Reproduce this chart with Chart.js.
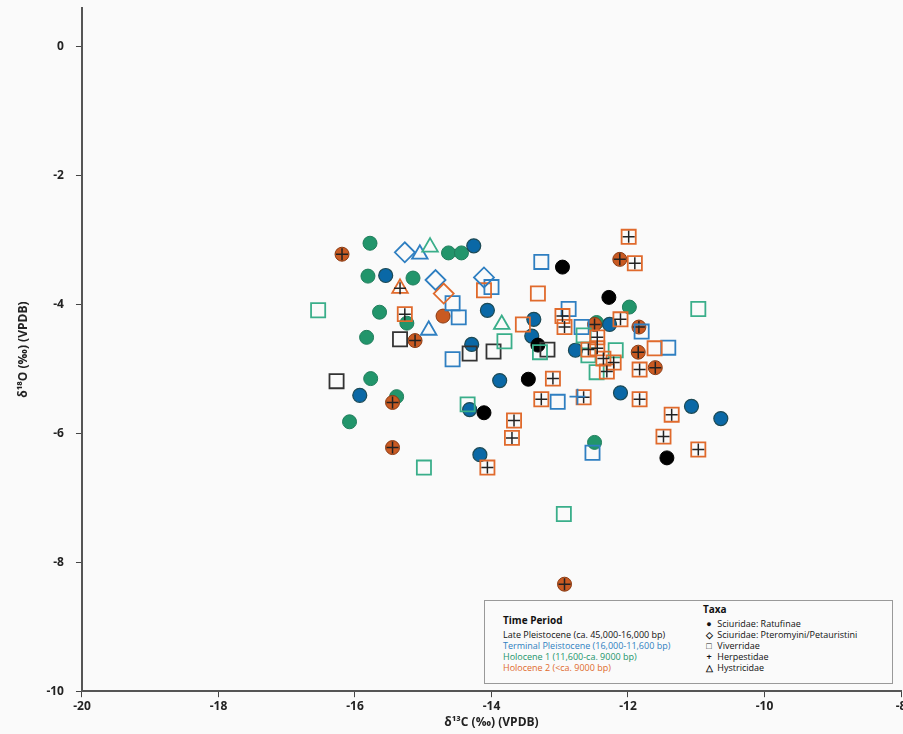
<!DOCTYPE html>
<html>
<head>
<meta charset="utf-8">
<script src="https://cdn.jsdelivr.net/npm/chart.js@4"></script>
<style>
  body { margin: 0; background: #fafafa; }
  #wrap { position: relative; width: 903px; height: 734px; }
  #legend {
    position: absolute; left: 484px; top: 600px; width: 409px; height: 84px;
    border: 1px solid #999; background: #fafafa; box-sizing: border-box;
    font-family: "Open Sans", sans-serif; font-size: 9px; color: #111;
  }
  #legend .col1 { position: absolute; left: 18px; top: 14px; line-height: 11px; }
  #legend .col2 { position: absolute; left: 218px; top: 3px; line-height: 11px; }
  #legend b { font-size: 10px; display: block; margin-bottom: 3px; }
  .sym { display: inline-block; width: 12px; text-align: center; font-weight: bold; }
</style>
</head>
<body>
<div id="wrap">
  <canvas id="c" width="903" height="734"></canvas>
  <div id="legend">
    <div class="col1">
      <b>Time Period</b>
      <div>Late Pleistocene (ca. 45,000-16,000 bp)</div>
      <div style="color:#2f7fc1">Terminal Pleistocene (16,000-11,600 bp)</div>
      <div style="color:#22956b">Holocene 1 (11,600-ca. 9000 bp)</div>
      <div style="color:#e06a2c">Holocene 2 (&lt;ca. 9000 bp)</div>
    </div>
    <div class="col2">
      <b>Taxa</b>
      <div><span class="sym">●</span> Sciuridae: Ratufinae</div>
      <div><span class="sym">◇</span> Sciuridae: Pteromyini/Petauristini</div>
      <div><span class="sym">□</span> Viverridae</div>
      <div><span class="sym">+</span> Herpestidae</div>
      <div><span class="sym">△</span> Hystricidae</div>
    </div>
  </div>
</div>
<script>
// [δ13C, δ18O] pairs
const lateCircles = [[-12.96,-3.42],[-12.28,-3.89],[-13.46,-5.16],[-14.11,-5.68],[-13.32,-4.63],[-11.43,-6.38]];
const lateSquares = [[-16.27,-5.19],[-15.34,-4.54],[-14.32,-4.76],[-13.97,-4.73],[-13.18,-4.70]];

const termCircles = [[-14.26,-3.09],[-15.55,-3.55],[-14.06,-4.09],[-14.29,-4.62],[-13.38,-4.23],[-13.41,-4.49],
  [-12.77,-4.71],[-13.88,-5.18],[-15.93,-5.41],[-14.32,-5.63],[-14.17,-6.33],[-12.27,-4.31],[-12.11,-5.37],
  [-11.07,-5.58],[-10.64,-5.77]];
const termDiamonds = [[-15.27,-3.19],[-14.82,-3.62],[-14.11,-3.58]];
const termSquares = [[-13.27,-3.34],[-14.00,-3.73],[-14.57,-3.98],[-14.48,-4.20],[-14.57,-4.85],[-13.03,-5.51],
  [-12.52,-6.30],[-12.68,-4.35],[-12.87,-4.07],[-11.80,-4.42],[-11.41,-4.67]];
const termPlus = [[-12.74,-5.43]];
const termTriangles = [[-15.05,-3.22],[-14.92,-4.40]];

const holo1Circles = [[-15.78,-3.05],[-15.81,-3.56],[-15.15,-3.59],[-14.63,-3.20],[-14.44,-3.20],[-15.64,-4.12],
  [-15.24,-4.29],[-15.83,-4.51],[-15.77,-5.15],[-15.39,-5.43],[-16.08,-5.82],[-12.49,-6.14],[-11.98,-4.04],[-12.46,-4.28]];
const holo1Squares = [[-16.54,-4.09],[-13.81,-4.57],[-13.29,-4.74],[-12.65,-4.48],[-12.58,-4.79],[-12.46,-5.05],
  [-14.35,-5.55],[-14.99,-6.53],[-12.18,-4.71],[-10.97,-4.07],[-12.94,-7.25]];
const holo1Triangles = [[-14.90,-3.11],[-13.85,-4.31]];

const holo2Circles = [[-14.71,-4.18]];
const holo2CirclePlus = [[-16.19,-3.22],[-15.12,-4.56],[-15.45,-5.52],[-15.45,-6.22],[-12.49,-4.31],[-12.12,-3.30],
  [-11.84,-4.35],[-11.85,-4.74],[-11.60,-4.98],[-12.93,-8.34]];
const holo2Diamonds = [[-14.70,-3.83]];
const holo2Squares = [[-14.11,-3.78],[-13.32,-3.83],[-13.54,-4.31],[-11.61,-4.68]];
const holo2SquarePlus = [[-15.27,-4.15],[-12.96,-4.18],[-12.93,-4.35],[-13.10,-5.15],[-13.27,-5.47],[-13.67,-5.80],
  [-13.70,-6.07],[-12.65,-5.44],[-12.45,-4.51],[-12.58,-4.70],[-11.99,-2.95],[-11.90,-3.36],[-12.11,-4.23],
  [-12.45,-4.68],[-12.36,-4.84],[-12.21,-4.90],[-12.31,-5.04],[-11.83,-5.01],[-11.83,-5.47],[-11.36,-5.71],
  [-11.48,-6.05],[-10.97,-6.25],[-14.06,-6.53]];
const holo2TrianglePlus = [[-15.34,-3.75]];

const xTicks = [-20, -18, -16, -14, -12, -10, -8];
const yTicks = [0, -2, -4, -6, -8, -10];

const BLACK = "#000000", BLUE = "#2f7fc1", BLUEFILL = "#0a68a6", GREEN = "#3aae8a", GREENFILL = "#22956b",
      ORANGE = "#e06a2c", ORANGEFILL = "#c95a22";

const pts = (a) => a.map(([x, y]) => ({ x, y }));
function ds(data, style, fill, edge, radius, width) {
  return { data: pts(data), pointStyle: style, backgroundColor: fill, borderColor: edge,
           pointRadius: radius, pointBorderWidth: width, showLine: false };
}
const plusOver = (data) => ds(data, "cross", "#222", "#222", 6, 1.5);

// listed bottom-most first; Chart.js paints the first dataset last, so reverse
const layers = [
  ds(holo1Circles, "circle", GREENFILL, "#1f7d5b", 7, 1),
  ds(termCircles, "circle", BLUEFILL, "#1d4a55", 7, 1.2),
  ds(lateCircles, "circle", BLACK, BLACK, 7, 1),
  ds(holo2Circles, "circle", ORANGEFILL, "#8a3a12", 7, 1),
  ds(holo2CirclePlus, "circle", ORANGEFILL, "#8a3a12", 7, 1),
  plusOver(holo2CirclePlus),
  ds(lateSquares, "rect", "transparent", "#333", 10, 1.8),
  ds(termSquares, "rect", "transparent", BLUE, 10, 1.8),
  ds(holo1Squares, "rect", "transparent", GREEN, 10, 1.8),
  ds(holo2Squares, "rect", "transparent", ORANGE, 10, 1.8),
  ds(holo2SquarePlus, "rect", "transparent", ORANGE, 10, 1.8),
  plusOver(holo2SquarePlus),
  ds(termDiamonds, "rectRot", "transparent", BLUE, 10, 1.8),
  ds(holo2Diamonds, "rectRot", "transparent", ORANGE, 10, 1.8),
  ds(termTriangles, "triangle", "transparent", BLUE, 9, 1.8),
  ds(holo1Triangles, "triangle", "transparent", GREEN, 9, 1.8),
  ds(holo2TrianglePlus, "triangle", "transparent", ORANGE, 9, 1.8),
  plusOver(holo2TrianglePlus),
  ds(termPlus, "cross", BLUE, BLUE, 8, 1.8)
];
const datasets = layers.reverse();

const tickFont = { family: "'Open Sans', sans-serif", size: 12, weight: "bold" };
const titleFont = { family: "'Open Sans', sans-serif", size: 12, weight: "bold" };

new Chart(document.getElementById("c"), {
  type: "scatter",
  data: { datasets },
  options: {
    responsive: false,
    animation: false,
    layout: { autoPadding: false, padding: { top: 8, right: 2, left: 12, bottom: 4 } },
    plugins: { legend: { display: false }, tooltip: { enabled: false } },
    scales: {
      x: {
        type: "linear", min: -20, max: -8,
        afterBuildTicks: (s) => { s.ticks = xTicks.map((v) => ({ value: v })); },
        afterFit: (s) => { s.paddingLeft = 0; s.paddingRight = 0; },
        grid: { drawOnChartArea: false, tickLength: 6, color: "#444", lineWidth: 1 },
        border: { color: "#555", width: 2 },
        ticks: { color: "#222", font: tickFont, padding: 2 },
        title: { display: true, text: "δ¹³C (‰) (VPDB)", color: "#222", font: titleFont, padding: { top: 0, bottom: 0 } }
      },
      y: {
        type: "linear", min: -10, max: 0.6,
        afterBuildTicks: (s) => { s.ticks = yTicks.map((v) => ({ value: v })); },
        afterFit: (s) => { s.paddingTop = 0; s.paddingBottom = 0; },
        grid: { drawOnChartArea: false, tickLength: 6, color: "#444", lineWidth: 1 },
        border: { color: "#555", width: 2 },
        ticks: { color: "#222", font: tickFont, padding: 12 },
        title: { display: true, text: "δ¹⁸O (‰) (VPDB)", color: "#222", font: titleFont, padding: { bottom: 4 } }
      }
    }
  }
});
</script>
</body>
</html>
